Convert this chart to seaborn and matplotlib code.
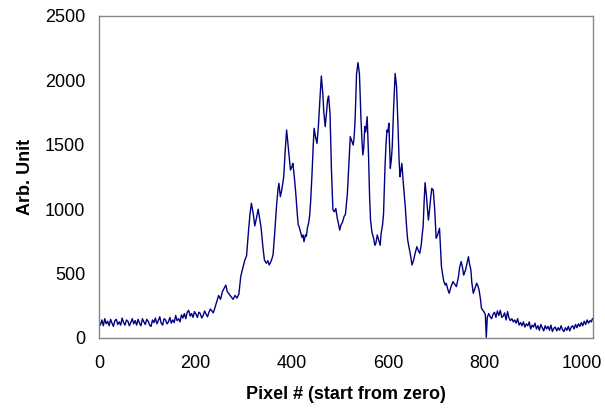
import matplotlib
matplotlib.use("Agg")
import matplotlib.pyplot as plt
import seaborn as sns
import pandas as pd

# pixel positions and intensities
pixel = [0, 3, 6, 9, 12, 15, 18, 21, 24, 27, 30, 33, 36, 39, 42, 45, 48, 51, 54, 57, 60, 63,
         66, 69, 72, 75, 78, 81, 84, 87, 90, 93, 96, 99, 102, 105, 108, 111, 114, 117, 120,
         123, 126, 129, 132, 135, 138, 141, 144, 147, 150, 153, 156, 159, 162, 165, 168, 171,
         174, 177, 180, 183, 186, 189, 192, 195, 198, 201, 204, 207, 210, 213, 216, 219, 222,
         225, 228, 231, 234, 237, 240,
         244, 248, 252, 256, 260, 263, 266, 270, 274, 278, 282, 286, 290,
         294, 298, 302, 306, 310, 313, 316, 320, 323, 327, 330, 333, 336, 340, 343, 347, 350,
         353, 356, 359, 361, 364, 368, 371, 373, 376, 379, 383, 386, 389, 392, 395, 397, 400,
         402, 405, 408, 411, 413, 415, 418, 421, 423, 425, 428, 430, 432, 435, 437, 439, 442,
         444, 446, 449, 452, 455, 458, 461, 464, 466, 469, 472, 474, 476, 479, 482, 485, 488,
         491, 494, 497, 499, 502, 505, 508, 511, 515, 518, 521, 524, 527, 529, 531, 534, 537,
         540, 543, 545, 547, 549, 551, 553, 556, 559, 561, 563, 566, 569, 572, 574, 577, 580,
         583, 585, 588, 590, 593, 595, 597, 599, 601, 603, 604, 606, 608, 611, 614, 617, 620,
         622, 624, 626, 628, 631, 635, 638, 640, 643, 646, 649, 652, 655, 659, 662, 665, 668,
         670, 672, 674, 676, 679, 681, 683, 686, 688, 690, 693, 696, 699, 702, 706, 710, 713,
         715, 718, 720, 723, 726, 730, 734, 737, 741, 745, 748, 751, 754, 756, 758, 760, 763,
         766, 768, 771, 773, 776, 779, 783, 786, 788, 791, 793, 797, 800, 801, 803,
         805, 808, 811, 814, 817, 820, 823, 826, 829, 832, 835, 838, 841, 844, 847, 850, 853,
         856, 859, 862, 865, 868, 871, 874, 877, 880, 883, 886, 889, 892, 895, 898, 901, 904,
         907, 910, 913, 916, 919, 922, 925, 928, 931, 934, 937, 940, 943, 946, 949, 952, 955,
         958, 961, 964, 967, 970, 973, 976, 979, 982, 985, 988, 991, 994, 997, 1000, 1003,
         1006, 1009, 1012, 1015, 1018, 1021, 1023]
intensity = [125, 100, 140, 95, 150, 110, 130, 95, 145, 115, 90, 135, 145, 105, 125, 100, 155,
             120, 100, 140, 130, 95, 120, 150, 110, 135, 100, 145, 115, 95, 150, 125, 105, 145,
             130, 100, 90, 140, 120, 155, 110, 135, 165, 115, 100, 150, 140, 110, 125, 160, 115,
             140, 120, 175, 135, 150, 125, 180, 155, 190, 150, 200, 215, 170, 190, 160, 205, 185,
             160, 200, 190, 155, 175, 210, 185, 165, 200, 225, 210, 195, 230,
             280, 330, 300, 360, 390, 410, 360, 340, 320, 300,
             330, 310, 340, 480, 540, 600, 640, 830, 960, 1046, 960, 870, 940, 1000, 930, 860,
             700, 605, 580, 600, 567, 590, 620, 650, 800, 1019, 1150, 1201, 1097, 1150, 1252,
             1450, 1615, 1500, 1380, 1304, 1330, 1356, 1250, 1123, 968, 880, 864, 820, 780, 800,
             748, 800, 790, 852, 900, 960, 1071, 1300, 1480, 1628, 1560, 1511, 1650, 1850, 2034,
             1900, 1760, 1641, 1760, 1850, 1879, 1744, 1300, 994, 980, 1006, 930, 880, 838, 880,
             900, 942, 960, 1123, 1350, 1563, 1530, 1498, 1560, 1692, 2050, 2138, 2050, 1718,
             1550, 1421, 1480, 1641, 1600, 1718, 1400, 1100, 916, 820, 780, 720, 735, 800, 760,
             720, 813, 880, 968, 1330, 1500, 1615, 1600, 1667, 1450, 1317, 1380, 1485, 1800,
             2054, 1950, 1641, 1400, 1252, 1300, 1356, 1200, 1019, 850, 761, 700, 640, 567, 600,
             650, 709, 680, 657, 720, 800, 864, 1050, 1206, 1100, 1000, 916, 1020, 1100, 1162,
             1149, 1000, 774, 800, 852, 554, 480, 438, 411, 425, 380, 347, 400, 438, 420, 399,
             470, 554, 593, 540, 489, 510, 528, 580, 631, 580, 528, 430, 347, 380, 425, 400, 373,
             300, 230, 210, 191, 180, 5,
             160, 190, 165, 150, 185, 200, 160, 210, 175, 215, 160, 170, 195, 140, 205, 155, 135,
             150, 125, 140, 115, 150, 100, 120, 95, 125, 85, 110, 95, 125, 70, 100, 85, 115, 70,
             95, 60, 105, 80, 55, 95, 70, 90, 60, 100, 50, 75, 85, 55, 80, 60, 95, 65, 50, 80, 60,
             90, 55, 85, 95, 70, 105, 80, 110, 90, 120, 95, 130, 105, 140, 115, 135, 125, 152]

x_ticks = [0, 200, 400, 600, 800, 1000]
y_ticks = [0, 500, 1000, 1500, 2000, 2500]

sns.set_style("white")
plt.rcParams["font.family"] = ["Liberation Sans", "DejaVu Sans"]
plt.rcParams["text.color"] = "black"
plt.rcParams["axes.labelcolor"] = "black"
plt.rcParams["xtick.color"] = "black"
plt.rcParams["ytick.color"] = "black"

df = pd.DataFrame({"pixel": pixel, "intensity": intensity})

fig = plt.figure(figsize=(6.05, 4.13), dpi=100)
ax = fig.add_axes([0.1636, 0.1816, 0.8164, 0.7797])
sns.lineplot(data=df, x="pixel", y="intensity", ax=ax, color="#000080",
             linewidth=1.0, estimator=None)

ax.set_xlim(0, 1024)
ax.set_ylim(0, 2500)
ax.set_xticks(x_ticks)
ax.set_yticks(y_ticks)
ax.tick_params(axis="x", direction="out", length=4, color="#888888", labelsize=13, pad=8)
ax.tick_params(axis="y", length=0, labelsize=13, pad=10)
for s in ax.spines.values():
    s.set_color("#888888")
    s.set_linewidth(1)

ax.set_xlabel("Pixel # (start from zero)", fontsize=13, fontweight="bold", labelpad=10)
ax.set_ylabel("Arb. Unit", fontsize=13, fontweight="bold", labelpad=8)

fig.savefig("out.png", dpi=100)
